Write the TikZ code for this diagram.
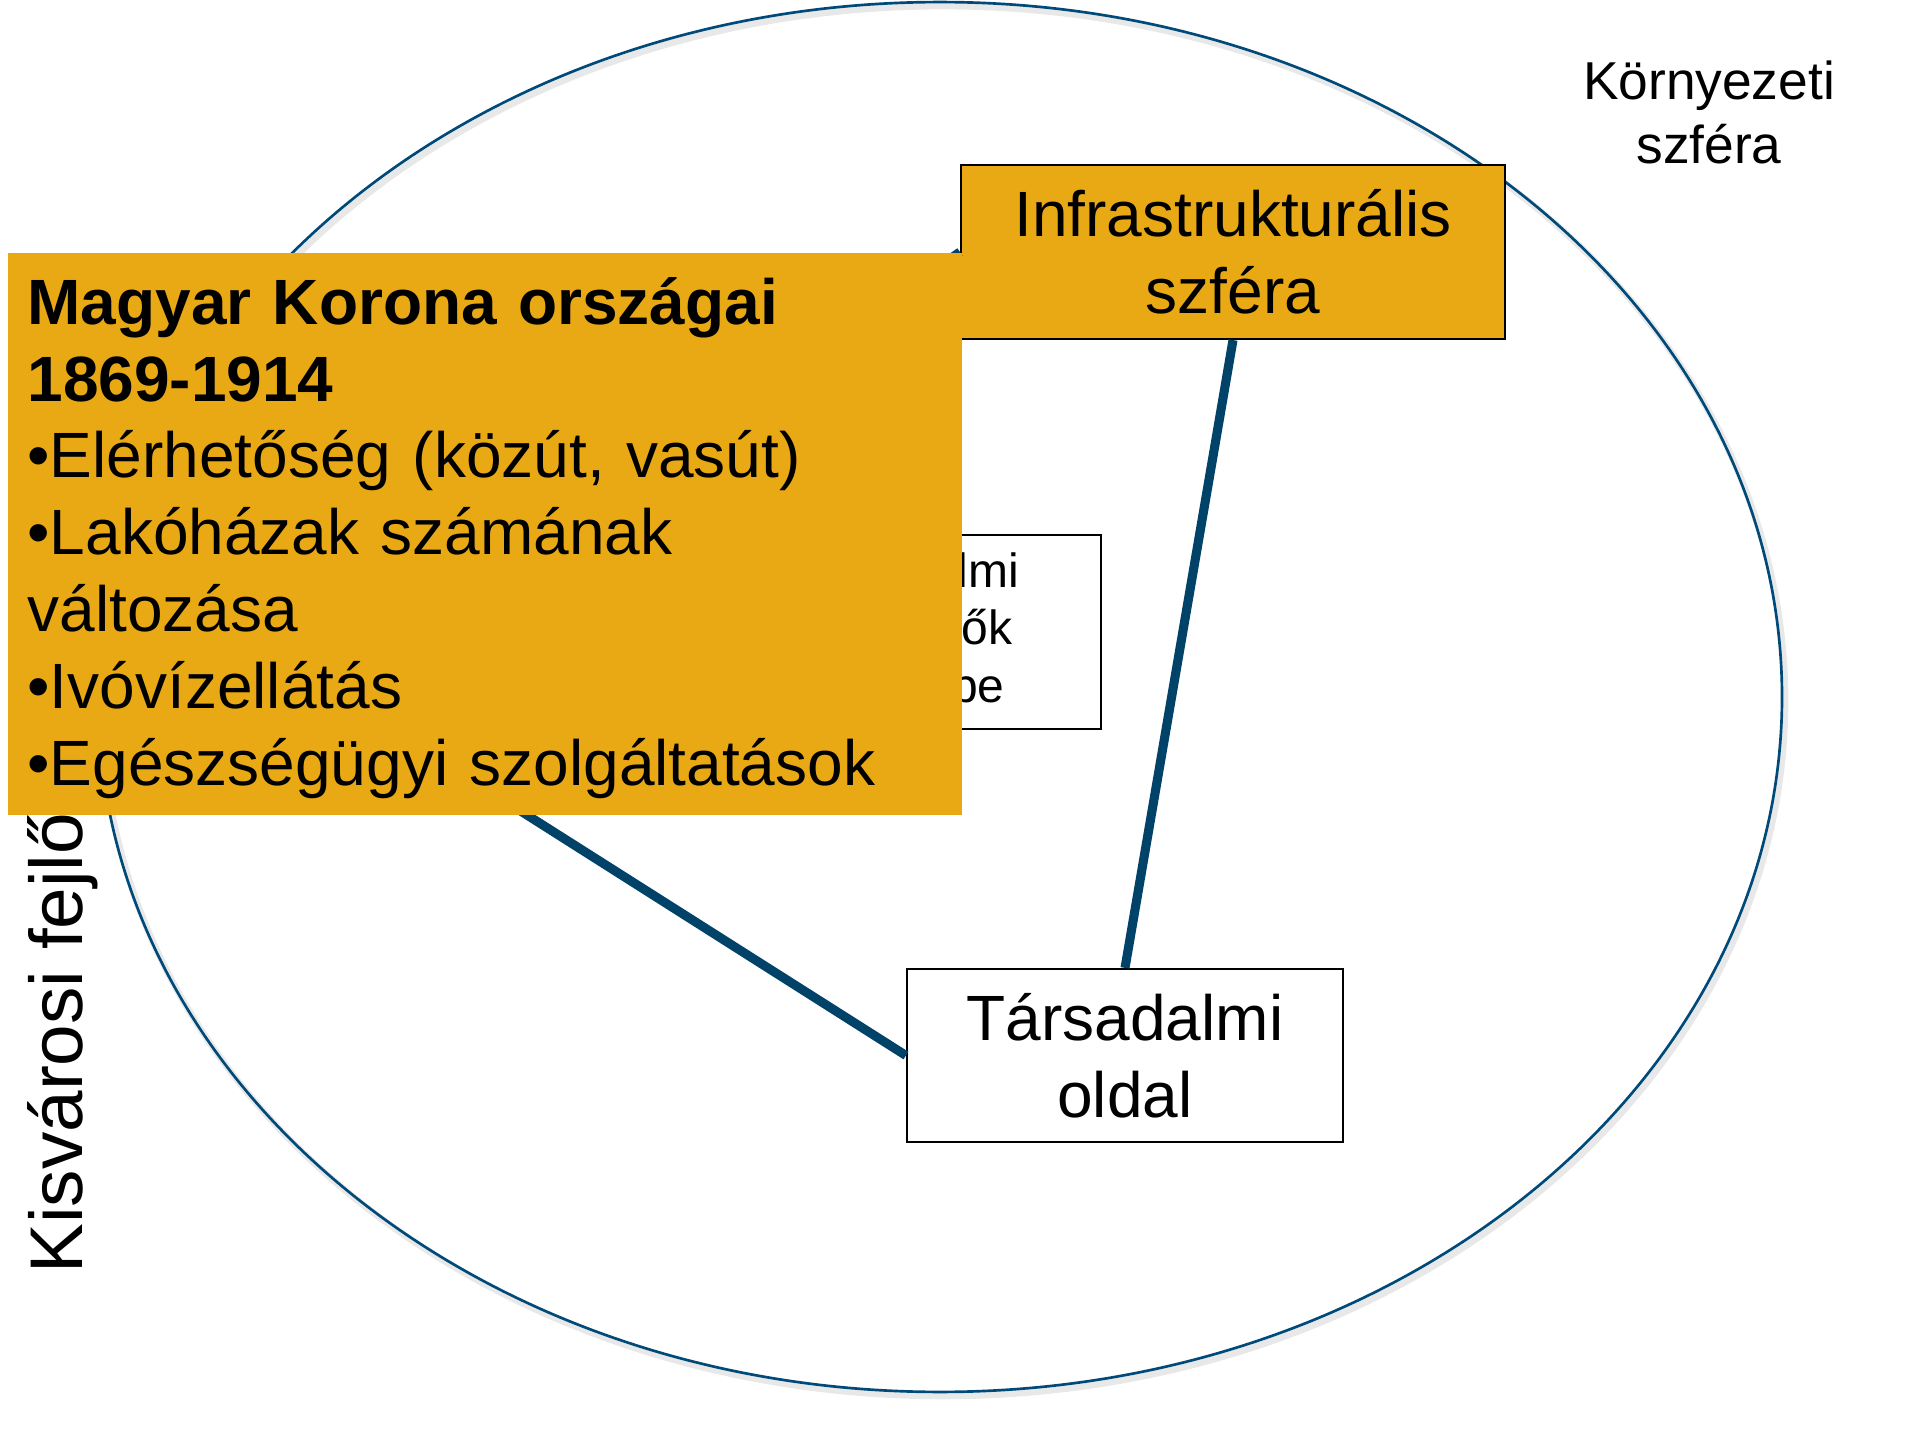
\documentclass[tikz,border=0pt]{standalone}
\usepackage{fontspec}
\setmainfont{Liberation Sans}
\definecolor{gold}{RGB}{233,169,20}
\definecolor{ellblue}{RGB}{0,74,122}
\definecolor{linkblue}{RGB}{0,66,104}
\tikzset{
  whitebox/.style={draw=black, line width=0.8pt, fill=white, inner sep=0pt, align=center},
  goldbox/.style={draw=black, line width=0.8pt, fill=gold, inner sep=0pt, align=center},
  link/.style={draw=linkblue, line width=3.4pt},
  bigfont/.style={font=\fontsize{24}{28.8}\selectfont},
}
\begin{document}
\begin{tikzpicture}[x=0.375pt,y=-0.375pt]
\useasboundingbox (0,0) rectangle (1920,1440);
% outer sphere with soft shadow
\draw[gray!18, line width=2.5pt] (943,701) ellipse [x radius=315.75pt, y radius=260.6pt];
\draw[ellblue, line width=1pt] (940,697) ellipse [x radius=315.75pt, y radius=260.6pt];
\node[font=\fontsize{20}{24}\selectfont, align=center] (korny) at (1709,112) {Környezeti\\szféra};
\node[rotate=90, anchor=base west, inner sep=0pt, font=\fontsize{28}{34}\selectfont] (kisv) at (82,1274) {Kisvárosi fejlődés};
% partly hidden box
\node[whitebox, minimum width=150.4pt, minimum height=72.75pt, font=\fontsize{18}{21.6}\selectfont] (tenyezok) at (900.5,632) {\raisebox{-1.8pt}{Társadalmi}\\\hspace*{12pt}\raisebox{-1.8pt}{tényezők}\\\hspace*{14pt}\raisebox{-1.8pt}{szerepe}};
% hidden node behind the gold panel
\coordinate (gazd) at (330,690);
\node[goldbox, minimum width=204pt, minimum height=65.25pt, bigfont] (infra) at (1233,252) {Infrastrukturális\\szféra};
\node[whitebox, minimum width=163.5pt, minimum height=64.9pt, bigfont] (tars) at (1125,1055.5) {Társadalmi\\oldal};
\draw[link] (gazd) -- (infra.west);
\draw[link] (gazd) -- (tars.west);
\draw[link] (infra.south) -- (tars.north);
% gold panel
\node[fill=gold, inner sep=0pt, minimum width=357.75pt, minimum height=210.75pt, anchor=north west] (panel) at (7,252) {};
\node[anchor=north west, inner sep=0pt, text width=345pt, align=left, bigfont] (paneltext) at (27,270)
 {\strut\textbf{Magyar Korona országai}\\
  \textbf{1869-1914}\\
  •Elérhetőség (közút, vasút)\\
  •Lakóházak számának\\
  változása\\
  •Ivóvízellátás\\
  •Egészségügyi szolgáltatások};
\end{tikzpicture}
\end{document}
